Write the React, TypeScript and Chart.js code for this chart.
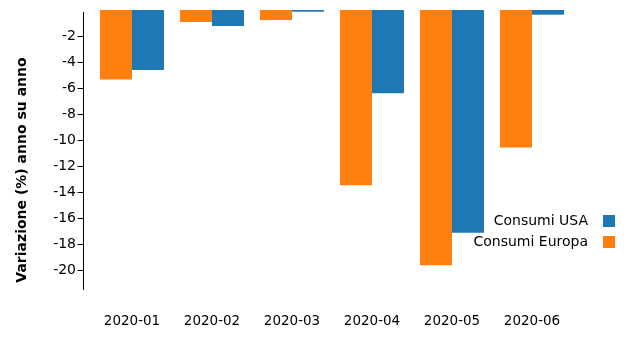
import React, { useEffect, useRef } from "react";
import { Chart, registerables } from "chart.js";

Chart.register(...registerables);

const categories = ["2020-01", "2020-02", "2020-03", "2020-04", "2020-05", "2020-06"];
const europaValues = [-5.33, -0.92, -0.77, -13.46, -19.6, -10.56];
const usaValues = [-4.6, -1.23, -0.13, -6.4, -17.1, -0.36];
const yTicks = [-2, -4, -6, -8, -10, -12, -14, -16, -18, -20];
const yTitle = "Variazione (%) anno su anno";
const seriesNames = ["Consumi Europa", "Consumi USA"];
const seriesColors = ["#ff7f0e", "#1f77b4"];

const FONT = "'DejaVu Sans', sans-serif";

const customPlugin = {
  id: "custom",
  afterDraw(chart: any) {
    const ctx = chart.ctx;
    const y = chart.scales.y;
    const area = chart.chartArea;
    const axisX = 83.5;
    ctx.save();
    ctx.strokeStyle = "#000";
    ctx.lineWidth = 1;
    ctx.beginPath();
    ctx.moveTo(axisX, area.top + 2);
    ctx.lineTo(axisX, area.bottom);
    for (const t of yTicks) {
      const py = Math.round(y.getPixelForValue(t)) + 0.5;
      ctx.moveTo(axisX - 6, py);
      ctx.lineTo(axisX, py);
    }
    ctx.stroke();

    // y title
    ctx.save();
    ctx.translate(22, 170);
    ctx.rotate(-Math.PI / 2);
    ctx.font = `bold 14px ${FONT}`;
    ctx.fillStyle = "#000";
    ctx.textAlign = "center";
    ctx.textBaseline = "middle";
    ctx.fillText(yTitle, 0, 0);
    ctx.restore();

    // legend (reversed order, box right of text)
    ctx.font = `14px ${FONT}`;
    ctx.textAlign = "right";
    ctx.textBaseline = "middle";
    const order = [1, 0];
    order.forEach((di, i) => {
      const cy = 221 + i * 21;
      ctx.fillStyle = "#000";
      ctx.fillText(seriesNames[di], 588, cy);
      ctx.fillStyle = seriesColors[di];
      ctx.fillRect(603, cy - 6, 12, 12);
    });
    ctx.restore();
  },
};

export default function App() {
  const ref = useRef<HTMLCanvasElement>(null);
  useEffect(() => {
    if (!ref.current) return;
    const chart = new Chart(ref.current, {
      type: "bar",
      data: {
        labels: categories,
        datasets: [
          {
            label: seriesNames[0],
            data: europaValues,
            backgroundColor: seriesColors[0],
            borderWidth: 0,
          },
          {
            label: seriesNames[1],
            data: usaValues,
            backgroundColor: seriesColors[1],
            borderWidth: 0,
          },
        ],
      },
      options: {
        animation: false,
        responsive: false,
        maintainAspectRatio: false,
        layout: { padding: { top: 10, right: 69, left: 0, bottom: 0 } },
        plugins: {
          legend: { display: false },
          tooltip: { enabled: false },
        },
        datasets: { bar: { categoryPercentage: 0.8, barPercentage: 1.0 } },
        scales: {
          x: {
            grid: { display: false, drawTicks: false },
            border: { display: false },
            ticks: {
              padding: 23,
              color: "#000",
              font: { family: FONT, size: 13.5 },
              maxRotation: 0,
            },
            afterFit: (s: any) => {
              s.height = 55;
              s.paddingLeft = 0;
              s.paddingRight = 0;
            },
          },
          y: {
            min: -21.5,
            max: 0,
            grid: { display: false, drawTicks: false },
            border: { display: false },
            afterBuildTicks: (s: any) => {
              s.ticks = yTicks.map((v) => ({ value: v }));
            },
            ticks: {
              padding: 16,
              color: "#000",
              font: { family: FONT, size: 14 },
            },
            afterFit: (s: any) => {
              s.width = 92;
              s.paddingTop = 0;
              s.paddingBottom = 0;
            },
          },
        },
      },
      plugins: [customPlugin],
    });
    return () => chart.destroy();
  }, []);
  return (
    <div style={{ position: "absolute", left: 0, top: 0, width: 641, height: 345, background: "#fff" }}>
      <canvas ref={ref} width={641} height={345} style={{ width: 641, height: 345 }} />
    </div>
  );
}
